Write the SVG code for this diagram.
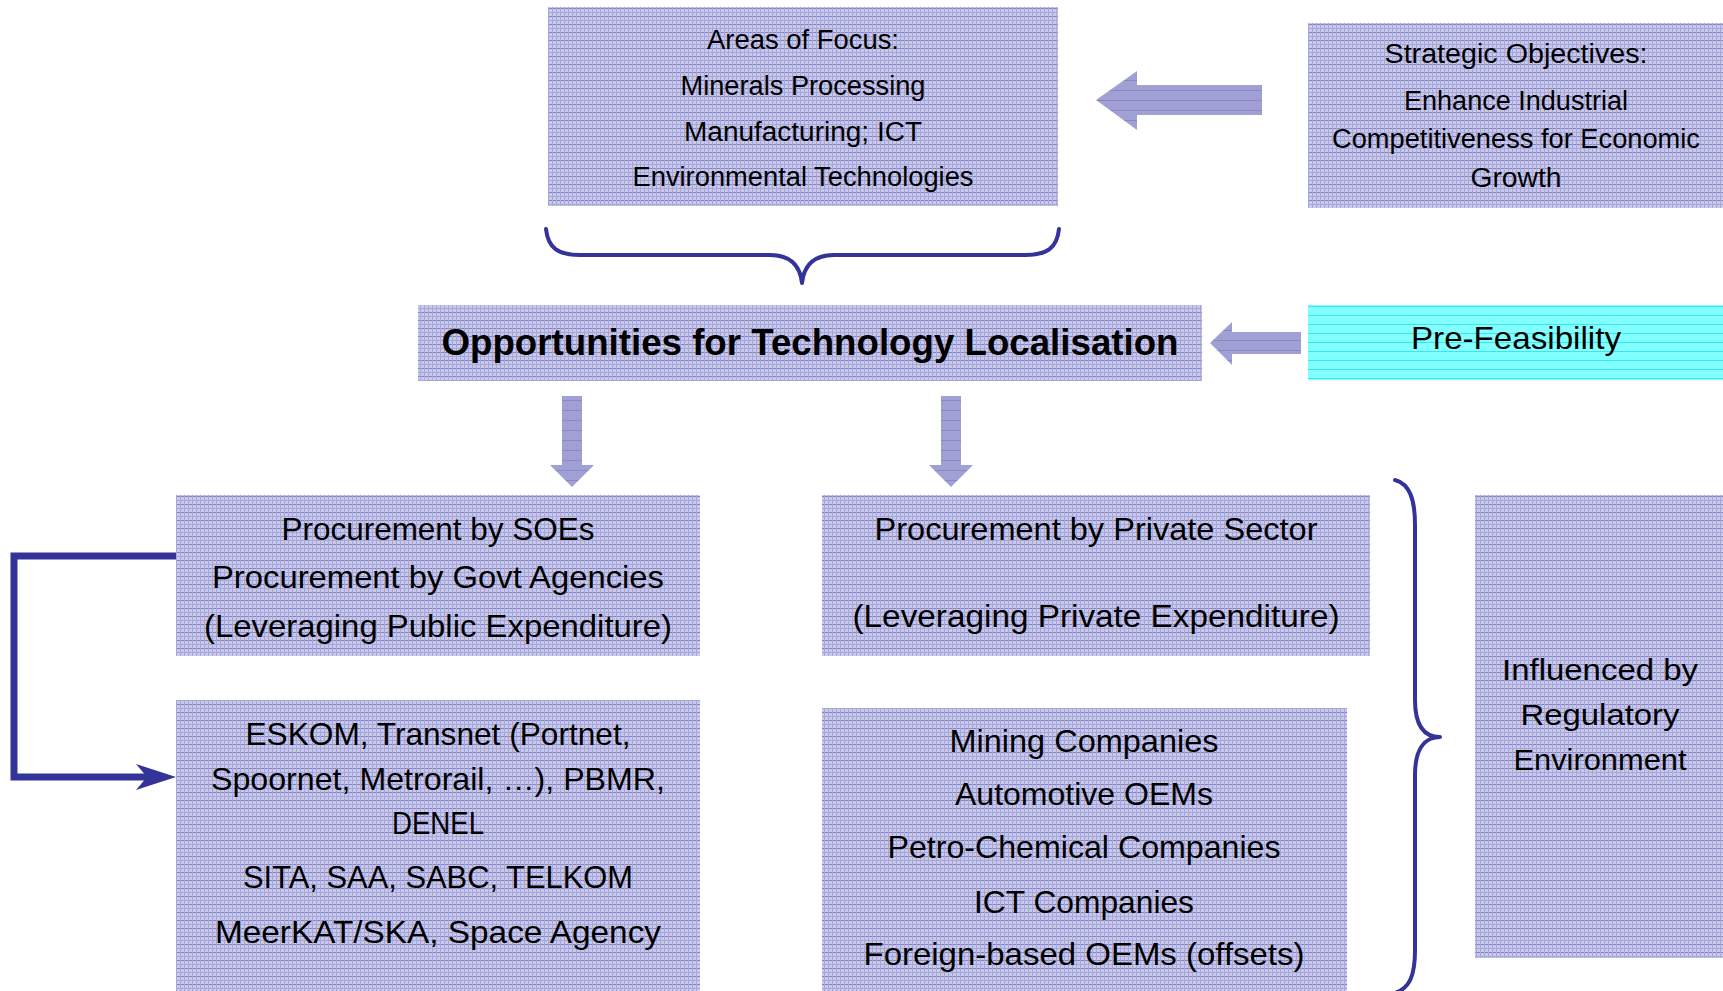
<svg xmlns="http://www.w3.org/2000/svg" width="1723" height="991" viewBox="0 0 1723 991">
<style>
.t{font-family:"Liberation Sans",Arial,sans-serif;fill:#000;text-anchor:middle}
.f27{font-size:27px}
.f30{font-size:30px}
.f32{font-size:32px}
.title{font-size:36px;font-weight:bold}
.box{fill:url(#tex)}
.cyan{fill:url(#cyanTex)}
.arrow{fill:url(#arrowTex)}
.brace{fill:none;stroke:#333399;stroke-width:4;stroke-linecap:round;stroke-linejoin:round}
.conn{fill:none;stroke:#333399;stroke-width:7}
</style>
<defs>
<pattern id="tex" width="8" height="8" patternUnits="userSpaceOnUse">
<rect width="8" height="8" fill="#c8c8ea"/>
<rect x="0" y="0" width="8" height="1" fill="#8484c4"/>
<rect x="0" y="4" width="8" height="1" fill="#a6a6d8"/>
<rect x="0" y="0" width="1" height="8" fill="#a6a6d8"/>
<rect x="4" y="0" width="1" height="8" fill="#a6a6d8"/>
</pattern>
<pattern id="cyanTex" width="9" height="9" patternUnits="userSpaceOnUse">
<rect width="9" height="9" fill="#82ffff"/>
<rect x="0" y="0" width="9" height="1" fill="#40e4f0"/>
</pattern>
<pattern id="arrowTex" width="10" height="10" patternUnits="userSpaceOnUse">
<rect width="10" height="10" fill="#a0a0d4"/>
<rect x="0" y="0" width="10" height="1" fill="#8888c6"/>
</pattern>
</defs>

<g id="connectors">
<path class="brace" d="M546,229 C548,248 558,255 580,255 L770,255 C790,255 800,265 802,283 C804,265 814,255 834,255 L1025,255 C1047,255 1057,248 1059,229"/>
<path class="brace" d="M1395,480 C1410,484 1415,500 1415,525 L1415,700 C1415,725 1424,737 1440,737 C1424,737 1415,750 1415,775 L1415,950 C1415,975 1410,988 1395,993"/>
<polyline class="conn" points="176,556 14,556 14,777 150,777"/>
<polygon fill="#333399" points="176,777 136,764 147,777 136,790"/>
<polygon class="arrow" points="1096,100 1137,71 1137,85 1262,85 1262,115 1137,115 1137,130"/>
<polygon class="arrow" points="1210,343 1232,322 1232,332 1301,332 1301,354 1232,354 1232,365"/>
<polygon class="arrow" points="562,396 582,396 582,465 594,465 572,487 550,465 562,465"/>
<polygon class="arrow" points="941,396 961,396 961,465 973,465 951,487 929,465 941,465"/>
</g>

<g id="areas">
<rect class="box" x="548" y="7" width="510" height="199"/>
<text class="t f27" x="803" y="49" textLength="192" lengthAdjust="spacingAndGlyphs">Areas of Focus:</text>
<text class="t f27" x="803" y="95" textLength="245" lengthAdjust="spacingAndGlyphs">Minerals Processing</text>
<text class="t f27" x="803" y="141" textLength="238" lengthAdjust="spacingAndGlyphs">Manufacturing; ICT</text>
<text class="t f27" x="803" y="186" textLength="341" lengthAdjust="spacingAndGlyphs">Environmental Technologies</text>
</g>

<g id="strategic">
<rect class="box" x="1308" y="23" width="415" height="185"/>
<text class="t f27" x="1516" y="63" textLength="263" lengthAdjust="spacingAndGlyphs">Strategic Objectives:</text>
<text class="t f27" x="1516" y="110" textLength="224" lengthAdjust="spacingAndGlyphs">Enhance Industrial</text>
<text class="t f27" x="1516" y="148" textLength="368" lengthAdjust="spacingAndGlyphs">Competitiveness for Economic</text>
<text class="t f27" x="1516" y="187" textLength="91" lengthAdjust="spacingAndGlyphs">Growth</text>
</g>

<g id="opportunities">
<rect class="box" x="418" y="305" width="784" height="76"/>
<text class="t title" x="810" y="355" textLength="737" lengthAdjust="spacingAndGlyphs">Opportunities for Technology Localisation</text>
</g>

<g id="prefeasibility">
<rect class="cyan" x="1308" y="305" width="415" height="75"/>
<text class="t f32" x="1516" y="349" textLength="210" lengthAdjust="spacingAndGlyphs">Pre-Feasibility</text>
</g>

<g id="soe">
<rect class="box" x="176" y="495" width="524" height="161"/>
<text class="t f32" x="438" y="540" textLength="313" lengthAdjust="spacingAndGlyphs">Procurement by SOEs</text>
<text class="t f32" x="438" y="588" textLength="452" lengthAdjust="spacingAndGlyphs">Procurement by Govt Agencies</text>
<text class="t f32" x="438" y="637" textLength="468" lengthAdjust="spacingAndGlyphs">(Leveraging Public Expenditure)</text>
</g>

<g id="private">
<rect class="box" x="822" y="495" width="548" height="161"/>
<text class="t f32" x="1096" y="540" textLength="443" lengthAdjust="spacingAndGlyphs">Procurement by Private Sector</text>
<text class="t f32" x="1096" y="627" textLength="487" lengthAdjust="spacingAndGlyphs">(Leveraging Private Expenditure)</text>
</g>

<g id="eskom">
<rect class="box" x="176" y="700" width="524" height="291"/>
<text class="t f32" x="438" y="745" textLength="385" lengthAdjust="spacingAndGlyphs">ESKOM, Transnet (Portnet,</text>
<text class="t f32" x="438" y="790" textLength="454" lengthAdjust="spacingAndGlyphs">Spoornet, Metrorail, …), PBMR,</text>
<text class="t f32" x="438" y="834" textLength="92" lengthAdjust="spacingAndGlyphs">DENEL</text>
<text class="t f32" x="438" y="888" textLength="390" lengthAdjust="spacingAndGlyphs">SITA, SAA, SABC, TELKOM</text>
<text class="t f32" x="438" y="943" textLength="446" lengthAdjust="spacingAndGlyphs">MeerKAT/SKA, Space Agency</text>
</g>

<g id="mining">
<rect class="box" x="822" y="708" width="525" height="283"/>
<text class="t f32" x="1084" y="752" textLength="269" lengthAdjust="spacingAndGlyphs">Mining Companies</text>
<text class="t f32" x="1084" y="805" textLength="258" lengthAdjust="spacingAndGlyphs">Automotive OEMs</text>
<text class="t f32" x="1084" y="858" textLength="393" lengthAdjust="spacingAndGlyphs">Petro-Chemical Companies</text>
<text class="t f32" x="1084" y="913" textLength="220" lengthAdjust="spacingAndGlyphs">ICT Companies</text>
<text class="t f32" x="1084" y="965" textLength="441" lengthAdjust="spacingAndGlyphs">Foreign-based OEMs (offsets)</text>
</g>

<g id="influenced">
<rect class="box" x="1475" y="495" width="248" height="463"/>
<text class="t f30" x="1600" y="680" textLength="196" lengthAdjust="spacingAndGlyphs">Influenced by</text>
<text class="t f30" x="1600" y="725" textLength="159" lengthAdjust="spacingAndGlyphs">Regulatory</text>
<text class="t f30" x="1600" y="770" textLength="173" lengthAdjust="spacingAndGlyphs">Environment</text>
</g>
</svg>
